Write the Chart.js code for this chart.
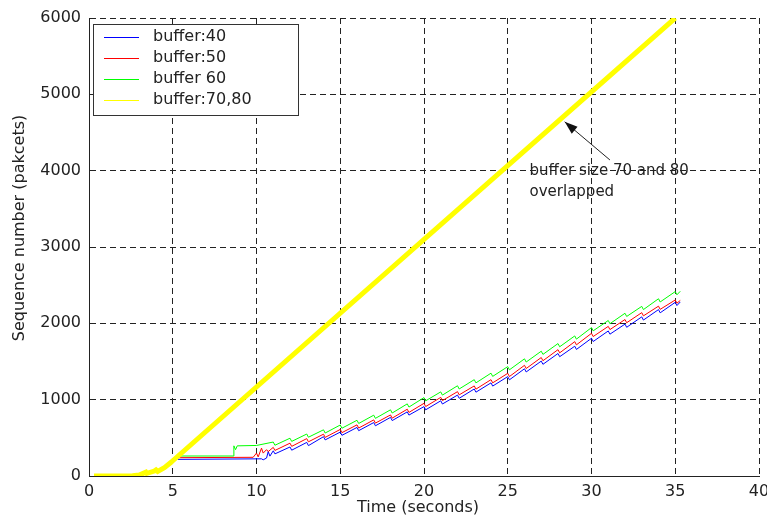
<!DOCTYPE html>
<html>
<head>
<meta charset="utf-8">
<script src="https://cdn.jsdelivr.net/npm/chart.js@4/dist/chart.umd.min.js"></script>
<style>
  body { margin: 0; background: #fff; }
  #seqChart { display: block; }
</style>
</head>
<body>
<canvas id="seqChart" width="767" height="524"></canvas>
<script>
// series labels + colours
const labels = ['buffer:40', 'buffer:50', 'buffer 60', 'buffer:70,80'];
const colors = ['#0000ff', '#ff0000', '#00ff00', '#ffff00'];

// axis setup
const xTicks = [0, 5, 10, 15, 20, 25, 30, 35, 40];
const yTicks = [0, 1000, 2000, 3000, 4000, 5000, 6000];
const xTitle = 'Time (seconds)';
const yTitle = 'Sequence number (pakcets)';

// buffer 40
const blueT = [5.3, 10.3, 10.4, 10.6, 10.7, 10.8, 11.0, 11.1,
  12, 12.1, 13, 13.1, 14, 14.1, 15, 15.1, 16, 16.1, 17, 17.1, 18, 18.1, 19, 19.1,
  20, 20.1, 21, 21.1, 22, 22.1, 23, 23.1, 24, 24.1, 25, 25.1, 26, 26.1, 27, 27.1,
  28, 28.1, 29, 29.1, 30, 30.1, 31, 31.1, 32, 32.1, 33, 33.1, 34, 34.1, 35, 35.1, 35.3];
const blueV = [218, 225, 212, 235, 320, 260, 330, 290,
  380, 338, 440, 398, 515, 473, 575, 533, 636, 594, 700, 658, 768, 726, 840, 798,
  909, 867, 985, 943, 1060, 1018, 1140, 1098, 1220, 1178, 1302, 1260, 1405, 1363, 1505, 1463,
  1605, 1563, 1700, 1658, 1804, 1762, 1900, 1858, 1990, 1948, 2085, 2043, 2180, 2138, 2275, 2233, 2280];

// buffer 50
const redT = [5.3, 9.8, 10.0, 10.1, 10.3, 10.4, 10.6, 10.7, 11.0, 11.1,
  12, 12.1, 13, 13.1, 14, 14.1, 15, 15.1, 16, 16.1, 17, 17.1, 18, 18.1, 19, 19.1,
  20, 20.1, 21, 21.1, 22, 22.1, 23, 23.1, 24, 24.1, 25, 25.1, 26, 26.1, 27, 27.1,
  28, 28.1, 29, 29.1, 30, 30.1, 31, 31.1, 32, 32.1, 33, 33.1, 34, 34.1, 35, 35.1, 35.3];
const redV = [240, 245, 300, 250, 365, 300, 345, 320, 375, 335,
  430, 388, 490, 448, 548, 506, 610, 568, 670, 628, 735, 693, 800, 758, 875, 833,
  952, 910, 1030, 988, 1105, 1063, 1180, 1138, 1262, 1220, 1345, 1303, 1450, 1408, 1552, 1510,
  1655, 1613, 1760, 1718, 1869, 1827, 1960, 1918, 2050, 2008, 2140, 2098, 2225, 2183, 2306, 2264, 2300];

// buffer 60
const greenT = [5.3, 8.6, 8.65, 8.75, 8.85, 10.0, 11.0, 11.1,
  12, 12.1, 13, 13.1, 14, 14.1, 15, 15.1, 16, 16.1, 17, 17.1, 18, 18.1, 19, 19.1,
  20, 20.1, 21, 21.1, 22, 22.1, 23, 23.1, 24, 24.1, 25, 25.1, 26, 26.1, 27, 27.1,
  28, 28.1, 29, 29.1, 30, 30.1, 31, 31.1, 32, 32.1, 33, 33.1, 34, 34.1, 35, 35.1, 35.3];
const greenV = [262, 262, 395, 345, 395, 400, 445, 403,
  495, 453, 550, 508, 605, 563, 668, 626, 730, 688, 797, 755, 867, 825, 945, 903,
  1027, 985, 1102, 1060, 1182, 1140, 1262, 1220, 1347, 1305, 1433, 1391, 1535, 1493, 1635, 1593,
  1735, 1693, 1835, 1793, 1944, 1902, 2037, 1995, 2132, 2090, 2222, 2180, 2322, 2280, 2416, 2374, 2420];

// buffer 70 and 80 (overlapped)
const yellowT = [0.3, 2.6, 3.0, 3.4, 3.45, 3.9, 4.0, 4.1, 4.5, 4.9, 5.0, 35.0];
const yellowV = [0, 2, 12, 50, 35, 65, 80, 60, 110, 180, 200, 6000];

// annotation text + arrow (data coords)
const noteLines = ['buffer size 70 and 80', 'overlapped'];
const noteAt = [26.3, 3996];
const arrowFrom = [31.1, 4140];
const arrowTo = [28.4, 4640];

const FONT = '"DejaVu Sans", "Liberation Sans", sans-serif';

function pts(ts, vs) {
  return ts.map((t, i) => ({ x: t, y: vs[i] }));
}

const overlay = {
  id: 'overlay',
  afterDraw(chart) {
    const ctx = chart.ctx;
    const xs = chart.scales.x, ys = chart.scales.y;
    ctx.save();
    ctx.setLineDash([]);

    // axis titles
    ctx.fillStyle = '#222';
    ctx.font = '16px ' + FONT;
    ctx.textAlign = 'center';
    ctx.textBaseline = 'middle';
    ctx.fillText(xTitle, 418, 508);
    ctx.save();
    ctx.translate(20, 228);
    ctx.rotate(-Math.PI / 2);
    ctx.fillText(yTitle, 0, 0);
    ctx.restore();

    // legend box
    ctx.fillStyle = '#fff';
    ctx.fillRect(93, 24, 205, 91);
    ctx.strokeStyle = '#333';
    ctx.lineWidth = 1;
    ctx.strokeRect(93.5, 24.5, 205, 91);
    ctx.textAlign = 'left';
    ctx.font = '16px ' + FONT;
    labels.forEach((lab, i) => {
      const y = 37 + i * 21;
      ctx.lineWidth = 1;
      ctx.strokeStyle = colors[i];
      ctx.beginPath();
      ctx.moveTo(104, y + 0.5);
      ctx.lineTo(139, y + 0.5);
      ctx.stroke();
      ctx.fillStyle = '#222';
      ctx.fillText(lab, 153, y);
    });

    // annotation
    const tx = xs.getPixelForValue(arrowTo[0]), ty = ys.getPixelForValue(arrowTo[1]);
    const fx = xs.getPixelForValue(arrowFrom[0]), fy = ys.getPixelForValue(arrowFrom[1]);
    ctx.strokeStyle = '#222';
    ctx.fillStyle = '#111';
    ctx.lineWidth = 1;
    ctx.beginPath();
    ctx.moveTo(fx, fy);
    ctx.lineTo(tx, ty);
    ctx.stroke();
    const ang = Math.atan2(ty - fy, tx - fx);
    ctx.beginPath();
    ctx.moveTo(tx, ty);
    ctx.lineTo(tx - 13 * Math.cos(ang) + 4.5 * Math.sin(ang), ty - 13 * Math.sin(ang) - 4.5 * Math.cos(ang));
    ctx.lineTo(tx - 13 * Math.cos(ang) - 4.5 * Math.sin(ang), ty - 13 * Math.sin(ang) + 4.5 * Math.cos(ang));
    ctx.closePath();
    ctx.fill();

    ctx.font = '15px ' + FONT;
    ctx.fillStyle = '#222';
    const nx = xs.getPixelForValue(noteAt[0]), ny = ys.getPixelForValue(noteAt[1]);
    noteLines.forEach((s, i) => ctx.fillText(s, nx, ny + i * 21));

    ctx.restore();
  }
};

new Chart(document.getElementById('seqChart'), {
  type: 'line',
  data: {
    datasets: [
      { label: labels[0], data: pts(blueT, blueV), borderColor: colors[0], borderWidth: 1, order: 3 },
      { label: labels[1], data: pts(redT, redV), borderColor: colors[1], borderWidth: 1, order: 2 },
      { label: labels[2], data: pts(greenT, greenV), borderColor: colors[2], borderWidth: 1, order: 1 },
      { label: labels[3], data: pts(yellowT, yellowV), borderColor: colors[3], borderWidth: 5, order: 0 }
    ]
  },
  options: {
    responsive: false,
    animation: false,
    devicePixelRatio: 1,
    elements: {
      point: { radius: 0 },
      line: { tension: 0, fill: false }
    },
    layout: { padding: { top: 18, right: 8, left: 0, bottom: 0 } },
    plugins: {
      legend: { display: false },
      tooltip: { enabled: false }
    },
    scales: {
      x: {
        type: 'linear',
        min: 0,
        max: 40,
        afterBuildTicks: s => { s.ticks = xTicks.map(v => ({ value: v })); },
        afterFit: s => { s.height = 48; s.paddingRight = 0; s.paddingLeft = 0; },
        ticks: { color: '#222', padding: 6, maxRotation: 0, font: { family: FONT, size: 16 },
          callback: v => String(v) },
        grid: { color: '#222', lineWidth: 1, drawTicks: false },
        border: { color: '#222', width: 1, dash: [6, 4] }
      },
      y: {
        type: 'linear',
        min: 0,
        max: 6000,
        afterBuildTicks: s => { s.ticks = yTicks.map(v => ({ value: v })); },
        afterFit: s => { s.width = 89; },
        ticks: { color: '#222', padding: 8, font: { family: FONT, size: 16 },
          callback: v => String(v) },
        grid: { color: '#222', lineWidth: 1, drawTicks: false },
        border: { color: '#222', width: 1, dash: [6, 4] }
      }
    }
  },
  plugins: [overlay]
});
</script>
</body>
</html>
